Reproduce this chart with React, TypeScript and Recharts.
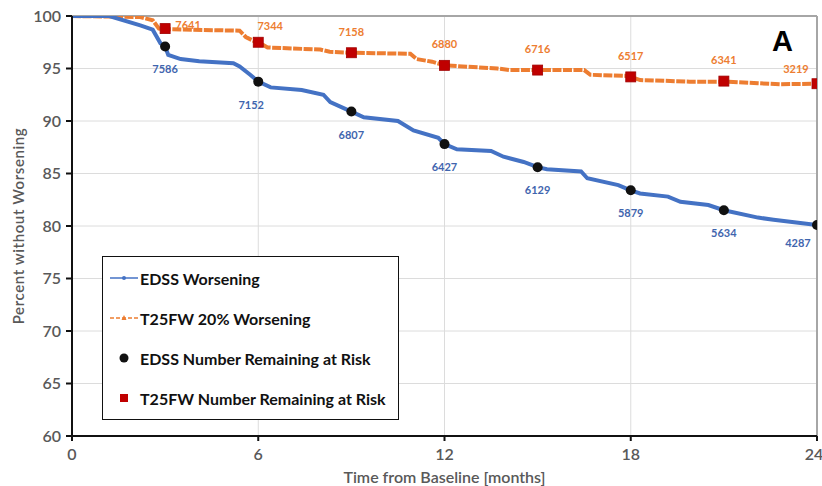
import { ComposedChart, Line, XAxis, YAxis, CartesianGrid, ReferenceLine } from 'recharts';

// Kaplan-Meier style curves
const edssMonths = [0, 1.2, 2.2, 2.6, 2.85, 3.0, 3.1, 3.5, 4.1, 5.2, 5.4, 5.74, 6.0, 6.4, 7.4, 8.1, 8.32, 9.0, 9.4, 10.5, 11.0, 11.8, 12.0, 12.4, 13.5, 13.9, 14.55, 15.0, 15.3, 16.4, 16.6, 17.6, 18.0, 18.3, 19.2, 19.6, 20.5, 21.0, 22.1, 22.6, 24];
const edssPct = [100, 100, 99.1, 98.7, 97.4, 97.1, 96.3, 95.9, 95.7, 95.5, 95.2, 94.4, 93.75, 93.2, 92.95, 92.5, 91.8, 90.9, 90.35, 90.0, 89.1, 88.4, 87.8, 87.3, 87.15, 86.6, 86.1, 85.6, 85.4, 85.2, 84.55, 83.9, 83.4, 83.1, 82.8, 82.3, 82.0, 81.5, 80.8, 80.6, 80.1];

const t25Months = [0, 2.2, 2.6, 2.8, 3.0, 5.4, 5.6, 5.9, 6.0, 6.3, 8.0, 8.3, 9.0, 10.9, 11.1, 11.6, 12.0, 13.7, 14.1, 15.0, 16.5, 16.7, 17.8, 18.0, 18.3, 19.9, 21.0, 22.1, 22.8, 24];
const t25Pct = [100, 99.9, 99.6, 98.8, 98.75, 98.6, 98.0, 97.55, 97.5, 97.0, 96.8, 96.6, 96.5, 96.4, 95.9, 95.65, 95.3, 95.0, 94.85, 94.85, 94.85, 94.4, 94.3, 94.2, 93.9, 93.75, 93.75, 93.6, 93.5, 93.55];

// number remaining at risk
const riskMonths = [3, 6, 9, 12, 15, 18, 21, 24];
const edssAtRisk = [7586, 7152, 6807, 6427, 6129, 5879, 5634, 4287];
const edssAtRiskPct = [97.1, 93.75, 90.9, 87.8, 85.6, 83.4, 81.5, 80.1];
const t25AtRisk = [7641, 7344, 7158, 6880, 6716, 6517, 6341, 3219];
const t25AtRiskPct = [98.8, 97.5, 96.5, 95.3, 94.85, 94.2, 93.8, 93.55];

const xTicks = [0, 6, 12, 18, 24];
const yTicks = [60, 65, 70, 75, 80, 85, 90, 95, 100];

const BLUE = '#4472C4';
const ORANGE = '#ED7D31';
const RED = '#C00000';
const GREY = '#595959';
const FONT = 'Lato, "Open Sans", sans-serif';

const edssCurve = edssMonths.map((x, i) => ({ x, y: edssPct[i] }));
const t25Curve = t25Months.map((x, i) => ({ x, y: t25Pct[i] }));
const edssRisk = riskMonths.map((x, i) => ({ x, y: edssAtRiskPct[i] }));
const t25Risk = riskMonths.map((x, i) => ({ x, y: t25AtRiskPct[i] }));

const last = riskMonths.length - 1;

function EdssLabel(props: any) {
  const { x, y, index } = props;
  let dx = 0;
  let dy = 23;
  if (index === 1) dx = -7;
  if (index === last) { dx = -19; dy = 18; }
  return (
    <text key={index} x={x + dx} y={y + dy} dy={4} textAnchor="middle" fill="#3F65AE" fontSize={11} fontWeight={700} fontFamily={FONT}>
      {edssAtRisk[index]}
    </text>
  );
}

function T25Label(props: any) {
  const { x, y, index } = props;
  let dx = 0;
  let dy = -21;
  if (index === 0) { dx = 23; dy = -4; }
  if (index === 1) { dx = 12; dy = -16; }
  if (index === last) { dx = -21; dy = -15; }
  return (
    <text key={index} x={x + dx} y={y + dy} dy={4} textAnchor="middle" fill={ORANGE} fontSize={11} fontWeight={700} fontFamily={FONT}>
      {t25AtRisk[index]}
    </text>
  );
}

const blackDot = (p: any) => <circle key={p.index} cx={p.cx} cy={p.cy} r={5} fill="#111" />;
const redSquare = (p: any) => (
  <rect key={p.index} x={p.cx - 5} y={p.cy - 5} width={10} height={10} fill={RED} stroke="#A00000" strokeWidth={0.8} />
);

function LegendBox() {
  const row = { display: 'flex', alignItems: 'center', height: 40, fontFamily: FONT, fontWeight: 700, fontSize: 16, color: '#111', whiteSpace: 'nowrap' } as const;
  return (
    <div style={{ position: 'absolute', left: 102, top: 256, border: '1.5px solid #111', background: '#fff', width: 297, height: 164, padding: '1px 0 0 7px', boxSizing: 'border-box' }}>
      <div style={row}>
        <svg width={30} height={10}><line x1={0} y1={5} x2={28} y2={5} stroke={BLUE} strokeWidth={1.5} /><circle cx={14} cy={5} r={2} fill={BLUE} /></svg>
        <span>EDSS Worsening</span>
      </div>
      <div style={row}>
        <svg width={30} height={10}><line x1={0} y1={5} x2={28} y2={5} stroke={ORANGE} strokeWidth={1.5} strokeDasharray="4 2" /><path d="M14 2 L16.5 7 L11.5 7 Z" fill={ORANGE} /></svg>
        <span>T25FW 20% Worsening</span>
      </div>
      <div style={row}>
        <svg width={30} height={12}><circle cx={14} cy={6} r={4.5} fill="#111" /></svg>
        <span>EDSS Number Remaining at Risk</span>
      </div>
      <div style={row}>
        <svg width={30} height={12}><rect x={10} y={2} width={8} height={8} fill={RED} /></svg>
        <span>T25FW Number Remaining at Risk</span>
      </div>
    </div>
  );
}

export default function App() {
  return (
    <div style={{ position: 'absolute', left: 0, top: 0, width: 822, height: 486, background: '#fff' }}>
      <ComposedChart width={822} height={486} margin={{ top: 16, right: 5, bottom: 0, left: 0 }}>
        <CartesianGrid stroke="#DCDCDC" strokeWidth={1} />
        <XAxis
          type="number"
          dataKey="x"
          domain={[0, 24]}
          ticks={xTicks}
          allowDataOverflow
          stroke="#111"
          strokeWidth={2}
          tickSize={5}
          tickMargin={8}
          height={50}
          tick={{ fill: GREY, fontSize: 16, fontWeight: 600, fontFamily: FONT }}
          label={{ value: 'Time from Baseline [months]', position: 'insideBottom', offset: 3, fill: GREY, fontSize: 16, fontWeight: 600, fontFamily: FONT }}
        />
        <YAxis
          type="number"
          domain={[60, 100]}
          ticks={yTicks}
          allowDataOverflow
          stroke="#111"
          strokeWidth={2}
          tickSize={6}
          tickMargin={5}
          width={72}
          tick={{ fill: GREY, fontSize: 16, fontWeight: 600, fontFamily: FONT }}
          label={{ value: 'Percent without Worsening', angle: -90, position: 'insideLeft', offset: 19, fill: GREY, fontSize: 15, fontWeight: 600, fontFamily: FONT, letterSpacing: 0.6, style: { textAnchor: 'middle' } }}
        />
        <ReferenceLine y={100} stroke="#A6A6A6" strokeWidth={2} />
        <ReferenceLine x={24} stroke="#A6A6A6" strokeWidth={2} />
        <Line data={t25Curve} dataKey="y" type="linear" stroke={ORANGE} strokeWidth={4} strokeDasharray="9 1.5" dot={false} activeDot={false} isAnimationActive={false} />
        <Line data={edssCurve} dataKey="y" type="linear" stroke={BLUE} strokeWidth={4} dot={false} activeDot={false} isAnimationActive={false} />
        <Line data={edssRisk} dataKey="y" stroke="none" dot={blackDot} activeDot={false} label={EdssLabel} isAnimationActive={false} />
        <Line data={t25Risk} dataKey="y" stroke="none" dot={redSquare} activeDot={false} label={T25Label} isAnimationActive={false} />
      </ComposedChart>
      <LegendBox />
      <div style={{ position: 'absolute', left: 772, top: 24, fontFamily: '"Liberation Sans", Arial, sans-serif', fontWeight: 700, fontSize: 29, color: '#000', lineHeight: '34px' }}>A</div>
    </div>
  );
}
